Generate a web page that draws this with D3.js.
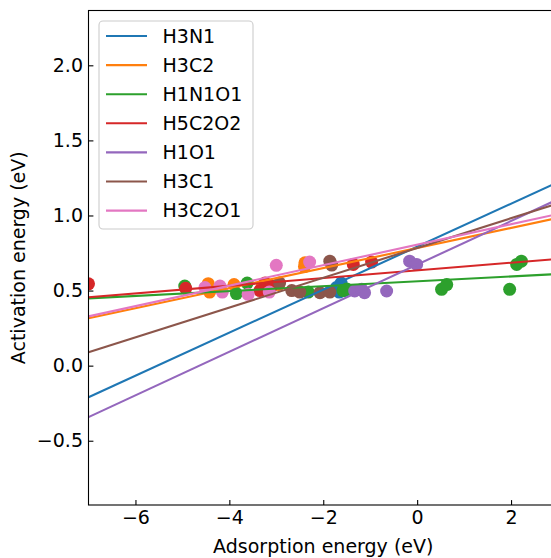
<!DOCTYPE html>
<html>
<head>
<meta charset="utf-8">
<script src="https://cdn.jsdelivr.net/npm/d3@7"></script>
<style>
  body { margin: 0; background: #fff; }
  svg { display: block; font-family: "DejaVu Sans", sans-serif; }
</style>
</head>
<body>
<svg id="chart" width="551" height="558"></svg>
<script>
// ---- data ----
const seriesNames = ["H3N1", "H3C2", "H1N1O1", "H5C2O2", "H1O1", "H3C1", "H3C2O1"];
const colors = ["#1f77b4", "#ff7f0e", "#2ca02c", "#d62728", "#9467bd", "#8c564b", "#e377c2"];

// scatter points [adsorption energy, activation energy]
const ptsH3N1 = [[-1.72, 0.52], [-1.62, 0.55], [-1.55, 0.50], [-1.66, 0.49]];
const ptsH3C2 = [[-4.45, 0.546], [-4.42, 0.49], [-3.90, 0.54], [-3.30, 0.53], [-2.39, 0.685], [-2.40, 0.66], [-2.95, 0.54]];
const ptsH1N1O1 = [[-4.95, 0.53], [-3.85, 0.48], [-3.62, 0.55], [-2.32, 0.49], [-1.58, 0.50], [-1.50, 0.51],
                   [0.52, 0.508], [0.63, 0.54], [1.97, 0.508], [2.12, 0.674], [2.22, 0.696]];
const ptsH5C2O2 = [[-7.0, 0.545], [-4.93, 0.515], [-3.35, 0.50], [-3.24, 0.55], [-3.10, 0.53], [-1.36, 0.674], [-0.97, 0.69]];
const ptsH1O1 = [[-1.33, 0.497], [-1.18, 0.508], [-1.12, 0.486], [-0.65, 0.497], [-0.16, 0.696], [-0.01, 0.674]];
const ptsH3C1 = [[-2.93, 0.55], [-2.67, 0.50], [-2.50, 0.49], [-2.07, 0.486], [-1.86, 0.49], [-1.86, 0.696], [-1.82, 0.67]];
const ptsH3C2O1 = [[-4.52, 0.52], [-4.20, 0.53], [-4.15, 0.49], [-3.60, 0.475], [-3.00, 0.668], [-2.29, 0.69], [-3.15, 0.49]];
const allPoints = [ptsH3N1, ptsH3C2, ptsH1N1O1, ptsH5C2O2, ptsH1O1, ptsH3C1, ptsH3C2O1];

// fitted lines: activation energy at the x-axis limits (x = -7 and x = 3)
const fitX = [-7, 3];
const fitLeft  = [-0.210, 0.315, 0.448, 0.455, -0.343, 0.089, 0.328];
const fitRight = [ 1.222, 0.984, 0.610, 0.711,  1.108, 1.081, 1.010];

const xTicks = [-6, -4, -2, 0, 2];
const yTicks = [-0.5, 0.0, 0.5, 1.0, 1.5, 2.0];
const xDomain = [-7, 3];
const yDomain = [-0.928, 2.365];

// ---- layout ----
const L = 88.5, R = 558, T = 10.5, B = 505;
const FS = 19;
const svg = d3.select("#chart");
const x = d3.scaleLinear().domain(xDomain).range([L, R]);
const y = d3.scaleLinear().domain(yDomain).range([B, T]);

svg.append("defs").append("clipPath").attr("id", "clip")
  .append("rect").attr("x", L).attr("y", T).attr("width", R - L).attr("height", B - T);

const plot = svg.append("g").attr("clip-path", "url(#clip)");

// scatters (below lines)
allPoints.forEach((pts, i) => {
  plot.append("g").selectAll("circle").data(pts).join("circle")
    .attr("cx", d => x(d[0])).attr("cy", d => y(d[1]))
    .attr("r", 6.5).attr("fill", colors[i]);
});

// fit lines
const line = d3.line().x(d => x(d[0])).y(d => y(d[1]));
seriesNames.forEach((name, i) => {
  plot.append("path")
    .datum([[fitX[0], fitLeft[i]], [fitX[1], fitRight[i]]])
    .attr("d", line).attr("fill", "none")
    .attr("stroke", colors[i]).attr("stroke-width", 2.1);
});

// axes
const fmtY = d3.format(".1f");
const xAxis = svg.append("g").attr("transform", `translate(0,${B})`)
  .call(d3.axisBottom(x).tickValues(xTicks).tickSize(-4.9).tickPadding(5.5).tickFormat(d3.format("d")));
const yAxis = svg.append("g").attr("transform", `translate(${L},0)`)
  .call(d3.axisLeft(y).tickValues(yTicks).tickSize(-4.9).tickPadding(5.5).tickFormat(fmtY));
[xAxis, yAxis].forEach(g => {
  g.select(".domain").remove();
  g.selectAll(".tick line").attr("stroke", "#000").attr("stroke-width", 1.1);
  g.selectAll(".tick text").attr("font-size", FS).attr("font-family", "DejaVu Sans").attr("fill", "#000");
});

// spines
const sp = svg.append("g").attr("stroke", "#000").attr("stroke-width", 1.1).attr("fill", "none");
sp.append("rect").attr("x", L).attr("y", T).attr("width", R - L).attr("height", B - T);

// axis labels
svg.append("text").attr("x", (L + R) / 2).attr("y", 553)
  .attr("text-anchor", "middle").attr("font-size", FS).text("Adsorption energy (eV)");
svg.append("text").attr("transform", `translate(25,${(T + B) / 2}) rotate(-90)`)
  .attr("text-anchor", "middle").attr("font-size", FS).text("Activation energy (eV)");

// legend
const leg = svg.append("g");
leg.append("rect").attr("x", 99).attr("y", 21).attr("width", 154).attr("height", 208)
  .attr("rx", 4).attr("fill", "#fff").attr("fill-opacity", 0.8)
  .attr("stroke", "#cccccc").attr("stroke-width", 1.1);
seriesNames.forEach((name, i) => {
  const cy = 36 + i * 29.1;
  leg.append("line").attr("x1", 106).attr("x2", 147).attr("y1", cy).attr("y2", cy)
    .attr("stroke", colors[i]).attr("stroke-width", 2.1);
  leg.append("text").attr("x", 162.5).attr("y", cy).attr("dy", "0.36em")
    .attr("font-size", FS).text(name);
});
</script>
</body>
</html>
